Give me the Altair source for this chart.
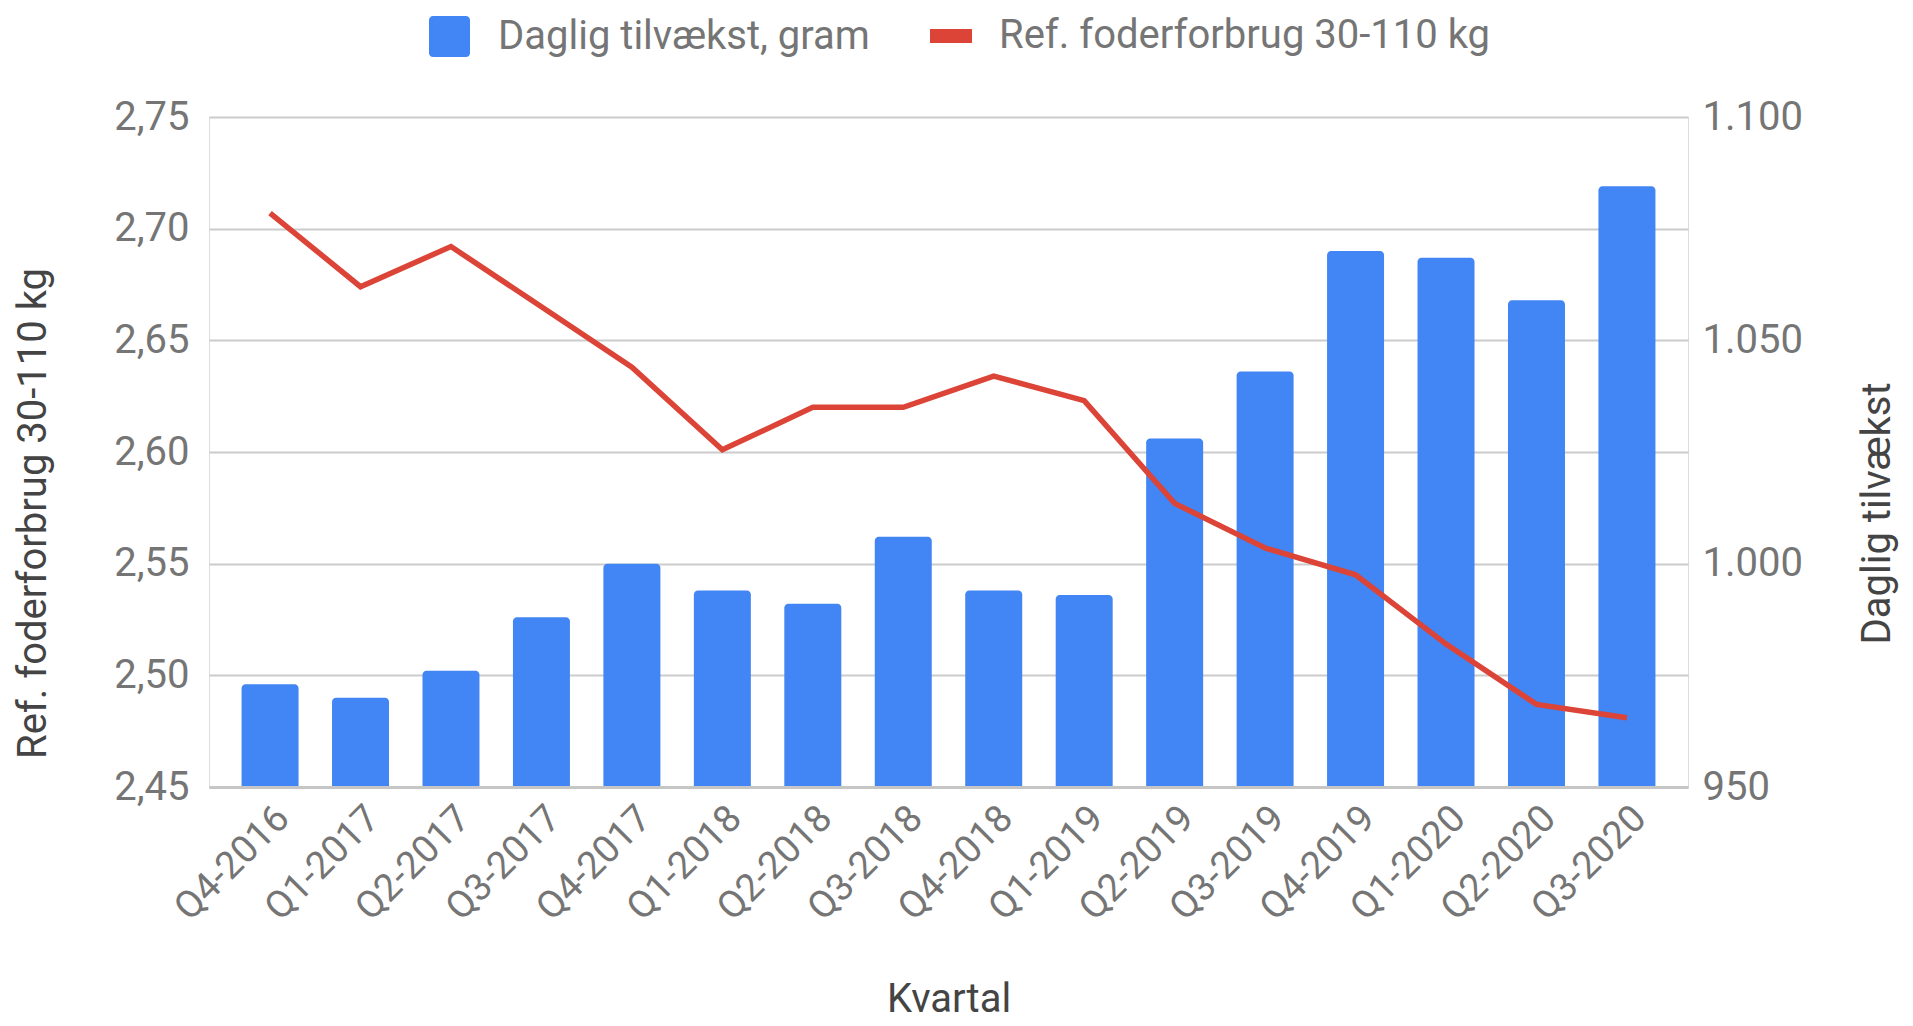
import altair as alt
import pandas as pd

quarters = ["Q4-2016", "Q1-2017", "Q2-2017", "Q3-2017", "Q4-2017", "Q1-2018",
            "Q2-2018", "Q3-2018", "Q4-2018", "Q1-2019", "Q2-2019", "Q3-2019",
            "Q4-2019", "Q1-2020", "Q2-2020", "Q3-2020"]
daily_gain = [973, 970, 976, 988, 1000, 994, 991, 1006, 994, 993,
              1028, 1043, 1070, 1068.5, 1059, 1084.5]
feed_use = [2.707, 2.674, 2.692, 2.665, 2.638, 2.601, 2.620, 2.620, 2.634,
            2.623, 2.577, 2.557, 2.545, 2.514, 2.487, 2.481]
bar_name = "Daglig tilvækst, gram"
line_name = "Ref. foderforbrug 30-110 kg"
left_ticks = [2.45, 2.50, 2.55, 2.60, 2.65, 2.70, 2.75]
right_ticks = [950, 1000, 1050, 1100]
gain_base = 950

df = pd.DataFrame({
    "Kvartal": quarters,
    "gain": daily_gain,
    "feed": feed_use,
    "bar_series": [bar_name] * len(quarters),
    "line_series": [line_name] * len(quarters),
})

FONT = "Roboto"
LABEL_C = "#757575"
TITLE_C = "#444444"
BLUE = "#4285F4"
RED = "#DB4437"

x_enc = alt.X(
    "Kvartal:N", sort=quarters,
    scale=alt.Scale(paddingInner=0.37, paddingOuter=0.36),
    axis=alt.Axis(
        title="Kvartal", titleFont=FONT, titleFontSize=40, titleColor=TITLE_C,
        titleFontWeight="normal", titlePadding=52,
        labelFont=FONT, labelFontSize=38, labelColor=LABEL_C,
        labelAngle=315, labelAlign="right", labelBaseline="top", labelPadding=12,
        ticks=False, domain=True, domainColor="#c6c6c6", domainWidth=3,
        grid=False, zindex=1,
    ),
)

rounded = ("M-0.8,-1H0.8A0.2,0.2 0 0 1 1,-0.8V0.8A0.2,0.2 0 0 1 0.8,1"
           "H-0.8A0.2,0.2 0 0 1 -1,0.8V-0.8A0.2,0.2 0 0 1 -0.8,-1Z")

bars = alt.Chart(df).mark_bar(
    cornerRadiusTopLeft=4, cornerRadiusTopRight=4
).encode(
    x=x_enc,
    y=alt.Y(
        "gain:Q",
        scale=alt.Scale(domain=[950, 1100], zero=False, nice=False),
        axis=alt.Axis(
            orient="right", values=right_ticks, grid=False, ticks=False, domain=False,
            labelExpr="replace(format(datum.value, ','), ',', '.')",
            labelFont=FONT, labelFontSize=40, labelColor=LABEL_C, labelPadding=14,
            title="Daglig tilvækst", titleFont=FONT, titleFontSize=40,
            titleColor=TITLE_C, titleFontWeight="normal", titleAngle=270,
            titleBaseline="top", titleY=396, titlePadding=55,
        ),
    ),
    y2=alt.datum(gain_base),
    fill=alt.Fill(
        "bar_series:N", scale=alt.Scale(domain=[bar_name], range=[BLUE]),
        legend=alt.Legend(
            title=None, orient="none", legendX=220, legendY=-101, padding=0,
            symbolType=rounded, symbolSize=1681, symbolStrokeWidth=0,
            labelFont=FONT, labelFontSize=40, labelColor=LABEL_C, labelOffset=28,
            labelLimit=800,
        ),
    ),
)

line = alt.Chart(df).mark_line(strokeWidth=5.5, strokeJoin="miter").encode(
    x=x_enc,
    y=alt.Y(
        "feed:Q",
        scale=alt.Scale(domain=[2.45, 2.75], zero=False, nice=False),
        axis=alt.Axis(
            orient="left", values=left_ticks, grid=True, gridColor="#cccccc",
            gridWidth=2, ticks=False, domain=False,
            labelExpr="replace(format(datum.value, '.2f'), '.', ',')",
            labelFont=FONT, labelFontSize=40, labelColor=LABEL_C, labelPadding=20,
            title=line_name, titleFont=FONT, titleFontSize=40,
            titleColor=TITLE_C, titleFontWeight="normal", titleY=396,
            titlePadding=60,
        ),
    ),
    stroke=alt.Stroke(
        "line_series:N", scale=alt.Scale(domain=[line_name], range=[RED]),
        legend=alt.Legend(
            title=None, orient="none", legendX=714, legendY=-109, padding=0,
            symbolType="stroke", symbolSize=1764, symbolStrokeWidth=14,
            labelFont=FONT, labelFontSize=40, labelColor=LABEL_C, labelOffset=20,
            labelLimit=800,
        ),
    ),
)

chart = alt.layer(bars, line).resolve_scale(
    y="independent", fill="independent", stroke="independent"
).properties(
    width=1479, height=670,
    padding={"left": 5, "top": 0, "right": 5, "bottom": 5},
).configure_view(stroke=None).configure(font=FONT)

chart.save("out.html", embed_options={"renderer": "svg", "actions": False})
